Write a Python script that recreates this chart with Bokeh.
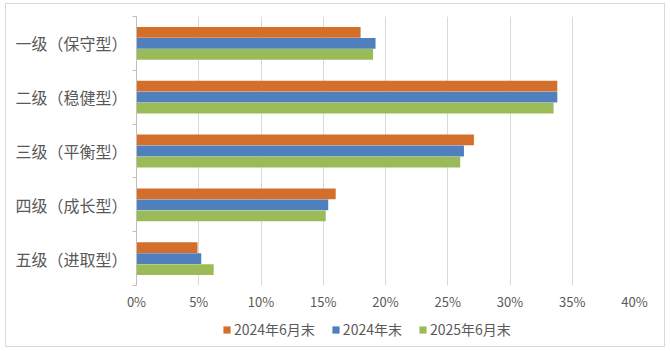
from bokeh.plotting import figure
from bokeh.layouts import column
from bokeh.models import (ColumnDataSource, Range1d, FixedTicker, PrintfTickFormatter,
                          Legend, LegendItem)
from bokeh.embed import file_html
from bokeh.resources import INLINE

categories = ["一级（保守型）", "二级（稳健型）", "三级（平衡型）", "四级（成长型）", "五级（进取型）"]
series_names = ["2024年6月末", "2024年末", "2025年6月末"]
s_2024_06 = [18.0, 33.8, 27.1, 16.0, 4.9]
s_2024_12 = [19.2, 33.8, 26.3, 15.4, 5.2]
s_2025_06 = [19.0, 33.5, 26.0, 15.2, 6.2]
x_ticks = [0, 5, 10, 15, 20, 25, 30, 35, 40]

colors = ["#D46F2B", "#4F7FBD", "#9BBB59"]
FONT = "'Noto Sans CJK SC', 'Noto Sans', sans-serif"
TXT = "#595959"

n = len(categories)
centers = [i + 0.5 for i in range(n)]
bounds = [float(i) for i in range(n + 1)]

W = 658
H_MAIN = 309
H_LEG = 342 - H_MAIN
p = figure(width=W, height=H_MAIN, output_backend="svg", toolbar_location=None,
           x_range=Range1d(0, 40), y_range=Range1d(n, 0),
           min_border_left=130, min_border_right=30, min_border_top=12, min_border_bottom=20)
p.outline_line_color = None
p.background_fill_color = "white"
p.border_fill_color = "white"

off = 0.205
hgt = 0.2
series = [s_2024_06, s_2024_12, s_2025_06]
for k, (vals, c) in enumerate(zip(series, colors)):
    src = ColumnDataSource(dict(y=[cy + (k - 1) * off for cy in centers], v=vals))
    p.hbar(y="y", right="v", left=0, height=hgt, source=src, fill_color=c, line_color=None)

# x axis
p.xaxis.ticker = FixedTicker(ticks=x_ticks)
p.xaxis.formatter = PrintfTickFormatter(format="%d%%")
p.xaxis.axis_line_color = None
p.xaxis.major_tick_line_color = None
p.xaxis.minor_tick_line_color = None
p.xaxis.major_tick_out = 0
p.xaxis.minor_tick_out = 0
p.xaxis.major_tick_in = 0
p.xaxis.major_label_text_font = FONT
p.xaxis.major_label_text_font_size = "13px"
p.xaxis.major_label_text_color = TXT
p.xaxis.major_label_standoff = 6

p.xgrid.ticker = FixedTicker(ticks=x_ticks)
p.xgrid.grid_line_color = "#D9D9D9"
p.ygrid.grid_line_color = None

# y axis
p.yaxis.ticker = FixedTicker(ticks=centers, minor_ticks=bounds)
p.yaxis.major_label_overrides = {c: lab for c, lab in zip(centers, categories)}
p.yaxis.axis_line_color = "#BFBFBF"
p.yaxis.major_tick_line_color = None
p.yaxis.major_tick_out = 0
p.yaxis.minor_tick_line_color = "#BFBFBF"
p.yaxis.minor_tick_in = 0
p.yaxis.minor_tick_out = 4
p.yaxis.major_label_text_font = FONT
p.yaxis.major_label_text_font_size = "16px"
p.yaxis.major_label_text_color = TXT
p.yaxis.major_label_standoff = 5

# legend strip below (frame aligned with the main chart by the column layout)
lg = figure(width=W, height=H_LEG, output_backend="svg", toolbar_location=None,
            x_range=Range1d(0, 1), y_range=Range1d(0, 1),
            min_border_left=130, min_border_right=30, min_border_top=0, min_border_bottom=0)
lg.axis.visible = False
lg.grid.visible = False
lg.outline_line_color = None
lg.border_fill_color = "white"
lg.background_fill_color = "white"
legend_renderers = []
for c in colors:
    # legend proxies: placed entirely outside the visible ranges
    r = lg.hbar(y=[50], right=[60], left=50, height=0.1, fill_color=c, line_color=None)
    legend_renderers.append(r)
legend = Legend(items=[LegendItem(label=nm, renderers=[r]) for nm, r in zip(series_names, legend_renderers)],
                orientation="horizontal", location=(86, 7))
legend.glyph_width = 9
legend.glyph_height = 9
legend.label_standoff = 3
legend.spacing = 16
legend.padding = 0
legend.margin = 0
legend.border_line_color = None
legend.background_fill_alpha = 0
legend.label_text_font = FONT
legend.label_text_font_size = "14px"
legend.label_text_color = TXT
lg.add_layout(legend, "center")

layout = column(p, lg, spacing=0,
                styles={"margin-left": "5px", "margin-top": "3px", "border": "1px solid #D9D9D9"})

open("out.html", "w").write(file_html(layout, INLINE))
